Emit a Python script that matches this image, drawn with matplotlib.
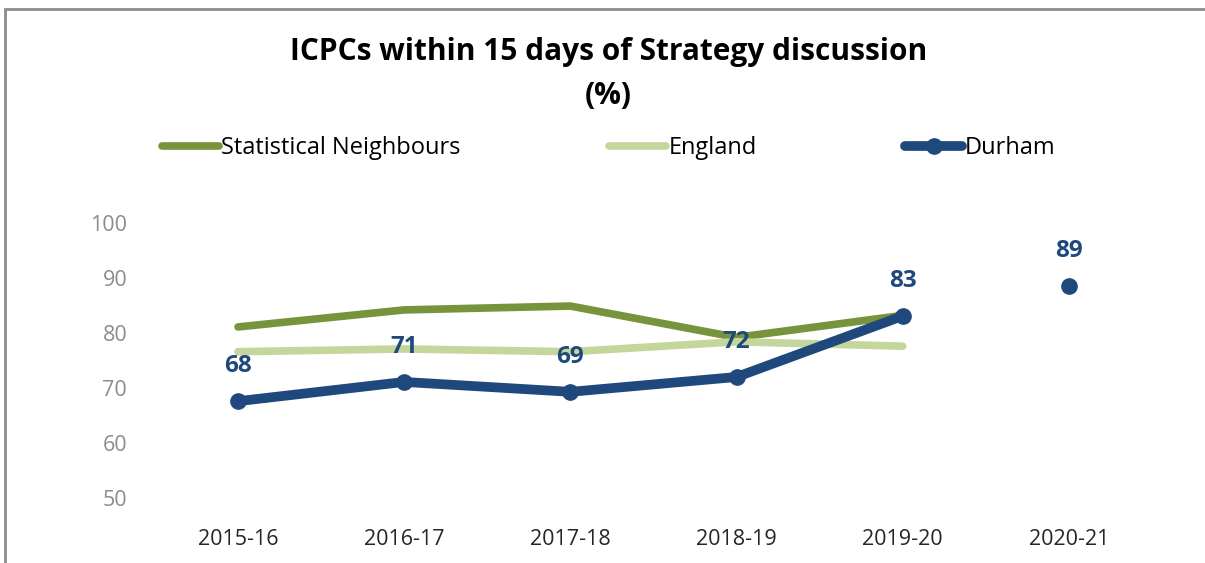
import numpy as np
import matplotlib.pyplot as plt
from matplotlib.patches import Rectangle

plt.rcParams['font.family'] = ['Open Sans', 'DejaVu Sans']

years = ['2015-16', '2016-17', '2017-18', '2018-19', '2019-20', '2020-21']
stat_neigh = [81.1, 84.2, 84.9, 79.2, 83.2]
england = [76.6, 77.1, 76.6, 78.4, 77.6]
durham = [67.6, 71.1, 69.3, 72.0, 83.1, 88.6]

c_sn = '#77933C'
c_eng = '#C3D69B'
c_dur = '#1F497D'

fig = plt.figure(figsize=(12.05, 5.63), dpi=100)
fig.patches.append(Rectangle((5 / 1205, -0.1), 1.2, 1.1 - 9 / 563, transform=fig.transFigure,
                             fill=False, edgecolor='#8C8C8C', linewidth=2))
ax = fig.add_axes([0.1286, 0.1155, 0.8274, 0.4884])

x = np.arange(len(years))
ax.plot(x[:5], stat_neigh, color=c_sn, lw=5.5, solid_capstyle='round', label='Statistical Neighbours')
ax.plot(x[:5], england, color=c_eng, lw=5.5, solid_capstyle='round', label='England')
ax.plot(x[:5], durham[:5], color=c_dur, lw=7, marker='o', ms=11, solid_capstyle='round', label='Durham')
ax.plot(x[5:], durham[5:], color=c_dur, lw=0, marker='o', ms=11)

for xi, v in zip(x, durham):
    ax.annotate(f'{v:.0f}', (xi, v), xytext=(0, 25), textcoords='offset points',
                ha='center', va='center', fontsize=17.5, fontweight='bold', color=c_dur)

ax.set_xlim(-0.5, 5.5)
ax.set_ylim(50, 100)
ax.set_yticks([50, 60, 70, 80, 90, 100])
ax.set_xticks(x)
ax.set_xticklabels(years)
for s in ax.spines.values():
    s.set_visible(False)
ax.tick_params(axis='y', length=0, labelsize=15.5, labelcolor='#8C8C8C', pad=20)
ax.tick_params(axis='x', length=0, labelsize=15.5, labelcolor='#262626', pad=22)

fig.text(0.505, 1 - 52 / 563, 'ICPCs within 15 days of Strategy discussion', ha='center', va='center',
         fontsize=21.5, fontweight='bold')
fig.text(0.505, 1 - 96 / 563, '(%)', ha='center', va='center', fontsize=21.5, fontweight='bold')

fig.legend(loc='center', bbox_to_anchor=(0.505, 1 - 148 / 563), ncol=3, frameon=False, fontsize=17,
           handlelength=2.4, handletextpad=0.1, columnspacing=6.3)

fig.savefig('out.png', dpi=100)
